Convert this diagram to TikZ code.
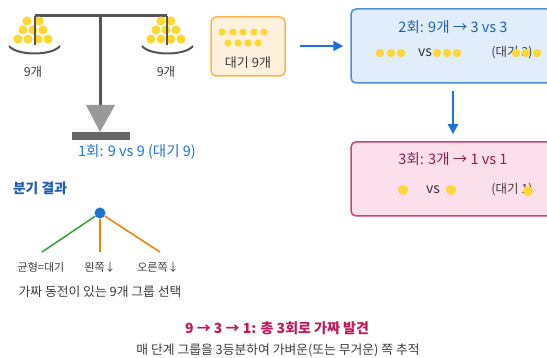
\documentclass[tikz,border=0pt]{standalone}
\usepackage{fontspec}
\setmainfont{Noto Sans CJK KR}
\usetikzlibrary{arrows.meta}

\definecolor{coinyellow}{HTML}{FDD835}
\definecolor{beamgray}{HTML}{555555}
\definecolor{stepblue}{HTML}{1E74D6}
\definecolor{waitfill}{HTML}{FFF1DC}
\definecolor{waitline}{HTML}{FFB54D}
\definecolor{bluefill}{HTML}{E1EDFA}
\definecolor{blueline}{HTML}{4A8FDB}
\definecolor{bluetext}{HTML}{1F5FB0}
\definecolor{pinkfill}{HTML}{FBDFEA}
\definecolor{pinkline}{HTML}{C9427A}
\definecolor{pinktext}{HTML}{8E1F50}
\definecolor{headred}{HTML}{C2185B}
\definecolor{textgray}{HTML}{3C3C3C}
\definecolor{treegreen}{HTML}{3A9A3A}
\definecolor{treeorange}{HTML}{F57C00}

\tikzset{
  roundbox/.style={rounded corners=5pt, line width=1.5pt, minimum width=204pt, minimum height=74pt},
  flow/.style={stepblue, line width=2pt, -{Triangle[length=10pt,width=10pt]}},
  big/.style={font=\fontsize{14.5}{16}\selectfont},
  mid/.style={font=\fontsize{12.5}{14}\selectfont},
}

\begin{document}
\begin{tikzpicture}[x=1pt,y=-1pt,font=\fontsize{11}{13}\selectfont,text=textgray]
\useasboundingbox (0,0) rectangle (547,358);

% balance: post, foot and beam
\draw[beamgray,line width=3pt] (100,16) -- (100,107);
\fill[black!40] (86,105) -- (115,105) -- (100,132) -- cycle;
\fill[black!60] (72,132) rectangle (130,140);
\draw[beamgray,line width=3pt] (35,16) -- (167,16);

% coins on the pans
\fill[coinyellow] (27,21) circle (4.6) (39,21) circle (4.6)
	(23,30) circle (4.6) (33,30) circle (4.6) (43,30) circle (4.6)
	(18,39) circle (4.6) (28,39) circle (4.6) (38,39) circle (4.6) (48,39) circle (4.6);
\fill[coinyellow] (161,21) circle (4.6) (171,21) circle (4.6)
	(156,30) circle (4.6) (166,30) circle (4.6) (176,30) circle (4.6)
	(151,39) circle (4.6) (161,39) circle (4.6) (171,39) circle (4.6) (181,39) circle (4.6);

% hangers and pans
\draw[beamgray,line width=2pt] (35,16) -- (35,45) (167,16) -- (167,45);
\draw[beamgray,line width=2pt] (9,46) .. controls (17,56) and (52,56) .. (60,46);
\draw[beamgray,line width=2pt] (142,46) .. controls (150,56) and (185,56) .. (193,46);
\node[mid] (lpan) at (33,72) {9개};
\node[mid] (rpan) at (166,72) {9개};
\node[big,text=stepblue] (round1) at (137,152) {1회: 9 vs 9 (대기 9)};

% coins set aside
\node[draw=waitline,fill=waitfill,line width=1.5pt,rounded corners=5pt,
	minimum width=74pt,minimum height=59pt] (wait) at (248,46.5) {};
\fill[coinyellow] (222,32) circle (3.6) (233,32) circle (3.6) (243,32) circle (3.6)
	(254,32) circle (3.6) (264,32) circle (3.6)
	(228,43) circle (3.6) (238,43) circle (3.6) (248,43) circle (3.6) (258,43) circle (3.6);
\node[font=\fontsize{13}{15}\selectfont] (waitlbl) at (248,63) {대기 9개};

% second weighing
\node[roundbox,draw=blueline,fill=bluefill] (round2) at (453,46) {};
\node[big,text=bluetext] (t2) at (453,27) {2회: 9개 → 3 vs 3};
\node[font=\fontsize{14}{16}\selectfont,text=black!80] (vs2) at (425,53) {vs};
\node[mid] (w2) at (512,53) {(대기 3)};
\fill[coinyellow] (380,53) circle (4.2) (391,53) circle (4.2) (401,53) circle (4.2)
	(437,53) circle (4.2) (447,53) circle (4.2) (457,53) circle (4.2)
	(516,53) circle (4.2) (526,53) circle (4.2) (537,53) circle (4.2);

% third weighing
\node[roundbox,draw=pinkline,fill=pinkfill] (round3) at (453,179) {};
\node[big,text=pinktext] (t3) at (453,159) {3회: 3개 → 1 vs 1};
\node[font=\fontsize{14}{16}\selectfont,text=black!80] (vs3) at (433,190) {vs};
\node[mid] (w3) at (512,190) {(대기 1)};
\fill[coinyellow] (403,190) circle (5) (451,190) circle (5) (528,191) circle (5);

% arrows between steps
\coordinate (a1) at (300,46);
\draw[flow] (a1) -- ([xshift=-7pt]round2.west);
\draw[flow,shorten <=7pt,shorten >=7pt] (round2.south) -- (round3.north);

% outcome tree
\node[font=\fontsize{13.8}{15}\bfseries,text=bluetext] (tree) at (40,188) {분기 결과};
\node[circle,fill=stepblue,inner sep=0pt,minimum size=11pt] (root) at (100,213) {};
\coordinate (eq) at (42,252);
\coordinate (lft) at (100,252);
\coordinate (rgt) at (160,252);
\draw[treegreen,line width=1.5pt] (root) -- (eq);
\draw[treeorange,line width=1.5pt] (root) -- (lft);
\draw[treeorange,line width=1.5pt] (root) -- (rgt);
\node (leq) at (41,267) {균형=대기};
\node (llft) at (100,267) {왼쪽↓};
\node (lrgt) at (158,267) {오른쪽↓};
\node[font=\fontsize{12.8}{15}\selectfont] (pick) at (100,292) {가짜 동전이 있는 9개 그룹 선택};

% summary
\node[font=\fontsize{14}{16}\bfseries,text=headred] (sum) at (277,328) {9 → 3 → 1: 총 3회로 가짜 발견};
\node[font=\fontsize{12.8}{15}\selectfont] (note) at (278,350) {매 단계 그룹을 3등분하여 가벼운(또는 무거운) 쪽 추적};

\end{tikzpicture}
\end{document}
